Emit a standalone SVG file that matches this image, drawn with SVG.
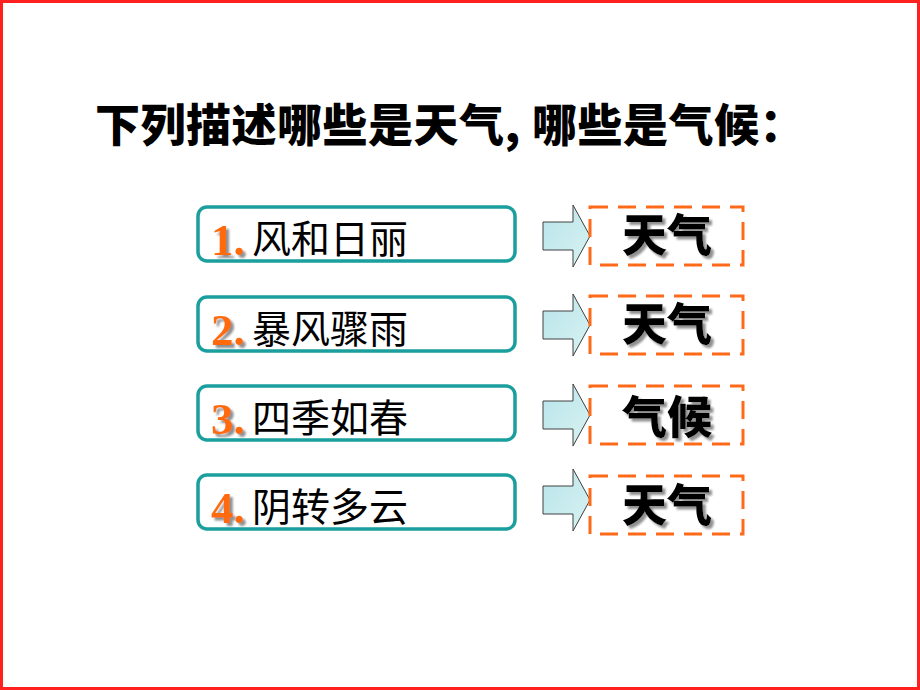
<svg xmlns="http://www.w3.org/2000/svg" width="920" height="690" viewBox="0 0 920 690">
<defs>
<linearGradient id="ag" x1="0" y1="0" x2="1" y2="1">
<stop offset="0" stop-color="#b8e4ec"/>
<stop offset="1" stop-color="#d8f2f0"/>
</linearGradient>
<filter id="sh" x="-10%" y="-10%" width="130%" height="130%">
<feGaussianBlur in="SourceAlpha" stdDeviation="1.2"/>
<feOffset dx="3" dy="3" result="b"/>
<feFlood flood-color="#909090"/>
<feComposite in2="b" operator="in"/>
<feMerge><feMergeNode/><feMergeNode in="SourceGraphic"/></feMerge>
</filter>
<path id="arrow" d="M0,-14 H30 V-31 L47,0 L30,31 V14 H0 Z"/>
</defs>
<style>
.frame{fill:#fff;stroke:#ff2020;stroke-width:3}
.item{fill:#fff;stroke:#1a9e9e;stroke-width:3.5}
.ans{fill:none;stroke:#ff6a1a;stroke-width:3;stroke-dasharray:18 10}
.arr{fill:url(#ag);stroke:#404040;stroke-width:1}
.title{font-family:"Noto Sans CJK SC","Liberation Sans",sans-serif;font-weight:900;font-size:45px;fill:#000}
.num{font-family:"Liberation Serif",serif;font-weight:bold;font-size:45px;fill:#ff6a10}
.lbl{font-family:"Noto Sans CJK SC",sans-serif;font-size:39px;fill:#000}
.a{font-family:"Noto Sans CJK SC",sans-serif;font-weight:900;font-size:45px;fill:#000;text-anchor:middle}
</style>
<rect class="frame" x="1.5" y="1.5" width="917" height="687"/>
<text class="title" x="95" y="142" letter-spacing="0.5">下列描述哪些是天气,</text>
<text class="title" x="532" y="142" letter-spacing="0.5">哪些是气候：</text>
<g id="item1">
<rect class="item" x="198" y="207" width="317" height="54" rx="9"/>
<text class="num" x="211" y="255" filter="url(#sh)">1.</text>
<text class="lbl" x="252" y="253">风和日丽</text>
</g>
<g id="item2">
<rect class="item" x="198" y="297" width="317" height="54" rx="9"/>
<text class="num" x="211" y="345" filter="url(#sh)">2.</text>
<text class="lbl" x="252" y="343">暴风骤雨</text>
</g>
<g id="item3">
<rect class="item" x="198" y="386" width="317" height="54" rx="9"/>
<text class="num" x="211" y="434" filter="url(#sh)">3.</text>
<text class="lbl" x="252" y="432">四季如春</text>
</g>
<g id="item4">
<rect class="item" x="198" y="475" width="317" height="54" rx="9"/>
<text class="num" x="211" y="523" filter="url(#sh)">4.</text>
<text class="lbl" x="252" y="521">阴转多云</text>
</g>
<g id="connectors">
<use href="#arrow" class="arr" x="543" y="236"/>
<use href="#arrow" class="arr" x="543" y="325"/>
<use href="#arrow" class="arr" x="543" y="415"/>
<use href="#arrow" class="arr" x="543" y="500"/>
</g>
<g id="ans1">
<rect class="ans" x="590" y="207" width="153" height="58"/>
<text class="a" x="667" y="252" filter="url(#sh)">天气</text>
</g>
<g id="ans2">
<rect class="ans" x="590" y="296" width="153" height="58"/>
<text class="a" x="667" y="341" filter="url(#sh)">天气</text>
</g>
<g id="ans3">
<rect class="ans" x="590" y="386" width="153" height="58"/>
<text class="a" x="667" y="434" filter="url(#sh)">气候</text>
</g>
<g id="ans4">
<rect class="ans" x="590" y="476" width="153" height="58"/>
<text class="a" x="667" y="522" filter="url(#sh)">天气</text>
</g>
</svg>
